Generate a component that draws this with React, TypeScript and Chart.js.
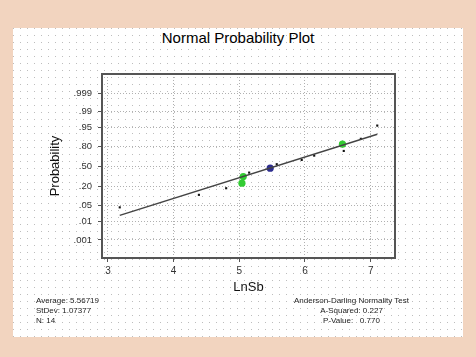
import React, { useEffect, useRef } from "react";
import { Chart, registerables } from "chart.js";

Chart.register(...registerables);

// ---- data ----
const xTicks = [3, 4, 5, 6, 7];
const probTicks = [0.001, 0.01, 0.05, 0.2, 0.5, 0.8, 0.95, 0.99, 0.999];
const probTickLabels = [".001", ".01", ".05", ".20", ".50", ".80", ".95", ".99", ".999"];

const plainX = [3.18, 4.385, 4.8, 5.15, 5.57, 5.95, 6.14, 6.59, 6.85, 7.1];
const plainP = [0.043, 0.117, 0.181, 0.4, 0.54, 0.61, 0.678, 0.745, 0.879, 0.958];

const greenX = [5.04, 5.06, 6.57];
const greenP = [0.242, 0.337, 0.827];

const blueX = [5.47];
const blueP = [0.473];

const fitX = [3.18, 7.1];
const fitP = [0.02, 0.913];

const statsLeft = ["Average: 5.56719", "StDev: 1.07377", "N: 14"];
const statsRight = ["Anderson-Darling Normality Test", "A-Squared: 0.227", "P-Value:   0.770"];

// inverse normal CDF (probability axis transform)
function probit(p: number): number {
  const a = [-3.969683028665376e1, 2.209460984245205e2, -2.759285104469687e2, 1.38357751867269e2, -3.066479806614716e1, 2.506628277459239];
  const b = [-5.447609879822406e1, 1.615858368580409e2, -1.556989798598866e2, 6.680131188771972e1, -1.328068155288572e1];
  const c = [-7.784894002430293e-3, -3.223964580411365e-1, -2.400758277161838, -2.549732539343734, 4.374664141464968, 2.938163982698783];
  const d = [7.784695709041462e-3, 3.224671290700398e-1, 2.445134137142996, 3.754408661907416];
  const pl = 0.02425;
  const ph = 1 - pl;
  let q: number, r: number;
  if (p < pl) {
    q = Math.sqrt(-2 * Math.log(p));
    return (((((c[0] * q + c[1]) * q + c[2]) * q + c[3]) * q + c[4]) * q + c[5]) / ((((d[0] * q + d[1]) * q + d[2]) * q + d[3]) * q + 1);
  }
  if (p <= ph) {
    q = p - 0.5;
    r = q * q;
    return ((((((a[0] * r + a[1]) * r + a[2]) * r + a[3]) * r + a[4]) * r + a[5]) * q) / (((((b[0] * r + b[1]) * r + b[2]) * r + b[3]) * r + b[4]) * r + 1);
  }
  q = Math.sqrt(-2 * Math.log(1 - p));
  return -(((((c[0] * q + c[1]) * q + c[2]) * q + c[3]) * q + c[4]) * q + c[5]) / ((((d[0] * q + d[1]) * q + d[2]) * q + d[3]) * q + 1);
}

const toPts = (xs: number[], ps: number[]) => xs.map((x, i) => ({ x, y: probit(ps[i]) }));

const FONT = "'Liberation Sans', Arial, sans-serif";

const framePlugin = {
  id: "frame",
  afterDraw(chart: any) {
    const { ctx, chartArea } = chart;
    ctx.save();
    ctx.strokeStyle = "#555";
    ctx.lineWidth = 2;
    ctx.strokeRect(chartArea.left, chartArea.top, chartArea.right - chartArea.left, chartArea.bottom - chartArea.top);
    ctx.restore();
  },
};

export default function App() {
  const ref = useRef<HTMLCanvasElement | null>(null);

  useEffect(() => {
    if (!ref.current) return;
    const chart = new Chart(ref.current, {
      type: "scatter",
      data: {
        datasets: [
          {
            type: "line",
            label: "fit",
            data: toPts(fitX, fitP),
            borderColor: "#444",
            borderWidth: 1.5,
            pointRadius: 0,
            fill: false,
          } as any,
          {
            label: "highlight green",
            data: toPts(greenX, greenP),
            backgroundColor: "#33cc33",
            borderColor: "#33cc33",
            pointRadius: 3.6,
            borderWidth: 0,
          },
          {
            label: "highlight blue",
            data: toPts(blueX, blueP),
            backgroundColor: "#2f2f8f",
            borderColor: "#2f2f8f",
            pointRadius: 3.6,
            borderWidth: 0,
          },
          {
            label: "LnSb",
            data: toPts(plainX, plainP),
            backgroundColor: "#111",
            borderColor: "#111",
            pointStyle: "rect",
            pointRadius: 1.5,
            borderWidth: 0,
          },
        ],
      },
      options: {
        animation: false,
        responsive: false,
        events: [],
        layout: { padding: { top: 74, right: 81, left: 0, bottom: 0 } },
        plugins: {
          legend: { display: false },
          tooltip: { enabled: false },
          title: { display: false },
        },
        scales: {
          x: {
            type: "linear",
            min: 2.91,
            max: 7.37,
            afterFit: (s: any) => {
              s.height = 99;
            },
            afterBuildTicks: (s: any) => {
              s.ticks = xTicks.map((v) => ({ value: v }));
            },
            ticks: {
              color: "#333",
              font: { family: FONT, size: 10 },
              padding: 3,
              maxRotation: 0,
            },
            grid: {
              color: "#b0b0b0",
              lineWidth: 1,
              tickLength: 4,
              tickColor: "#555",
              tickBorderDash: [],
            },
            border: { display: false, dash: [1, 2] },
            title: {
              display: true,
              text: "LnSb",
              color: "#111",
              font: { family: FONT, size: 13 },
              padding: { top: 0, bottom: 62 },
            },
          },
          y: {
            type: "linear",
            min: -3.85,
            max: 3.9,
            afterFit: (s: any) => {
              s.width = 102;
            },
            afterBuildTicks: (s: any) => {
              s.ticks = probTicks.map((p) => ({ value: probit(p) }));
            },
            ticks: {
              color: "#333",
              font: { family: FONT, size: 9.5 },
              padding: 6,
              callback: (_v: any, i: number) => probTickLabels[i],
            },
            grid: {
              color: "#b0b0b0",
              lineWidth: 1,
              tickLength: 4,
              tickColor: "#555",
              tickBorderDash: [],
            },
            border: { display: false, dash: [1, 2] },
            title: {
              display: true,
              text: "Probability",
              color: "#111",
              font: { family: FONT, size: 13 },
              padding: { top: 48, bottom: 0 },
            },
          },
        },
      } as any,
      plugins: [framePlugin],
    });
    return () => chart.destroy();
  }, []);

  const dotBg = {
    backgroundColor: "#fff",
    backgroundImage:
      "linear-gradient(to right, transparent 1px, #fff 1px), linear-gradient(to bottom, #bdbdbd 1px, transparent 1px)",
    backgroundSize: "7px 7px",
  };

  return (
    <div
      style={{
        position: "absolute",
        left: 0,
        top: 0,
        width: 476,
        height: 357,
        overflow: "hidden",
        background: "#f2d4bf",
        fontFamily: FONT,
      }}
    >
      <div style={{ position: "absolute", left: 13, top: 28, width: 450, height: 309, ...dotBg }} />
      <div
        style={{
          position: "absolute",
          left: 13,
          top: 29,
          width: 450,
          textAlign: "center",
          fontSize: 15,
          lineHeight: "18px",
          color: "#000",
        }}
      >
        Normal Probability Plot
      </div>
      <canvas ref={ref} width={476} height={357} style={{ position: "absolute", left: 0, top: 0, width: 476, height: 357 }} />
      <div style={{ position: "absolute", left: 36, top: 296, fontSize: 8, lineHeight: "10px", color: "#222", whiteSpace: "pre" }}>
        {statsLeft.map((t) => (
          <div key={t}>{t}</div>
        ))}
      </div>
      <div
        style={{
          position: "absolute",
          left: 271,
          width: 161,
          top: 296,
          fontSize: 8,
          lineHeight: "10px",
          color: "#222",
          textAlign: "center",
          whiteSpace: "pre",
        }}
      >
        {statsRight.map((t) => (
          <div key={t}>{t}</div>
        ))}
      </div>
    </div>
  );
}
